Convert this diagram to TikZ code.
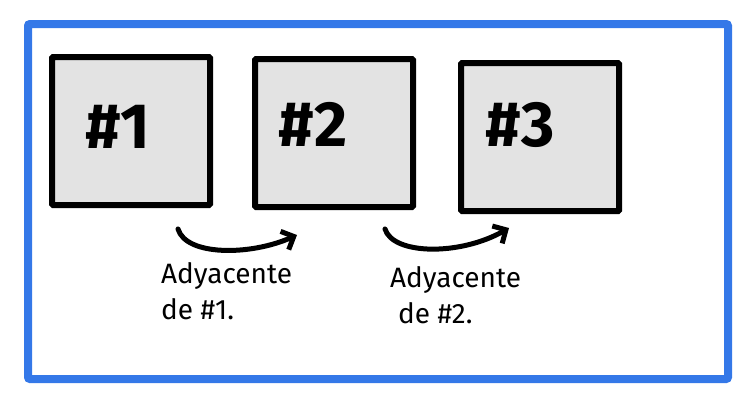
\documentclass[tikz,border=0pt]{standalone}
\usepackage{fontspec}
\setmainfont{Fira Sans}
\usetikzlibrary{arrows.meta}
\definecolor{frameblue}{HTML}{3478E8}
\definecolor{boxgray}{HTML}{E3E3E3}
\tikzstyle{cell} = [draw,line width=6pt,fill=boxgray,rounded corners=1pt,minimum width=158pt,minimum height=148pt,inner sep=0pt]
\tikzstyle{num} = [font=\fontsize{64}{64}\selectfont\bfseries,inner sep=0pt]
\tikzstyle{note} = [font=\fontsize{28}{36}\selectfont,align=left,inner sep=0pt,anchor=north west]
\tikzstyle{hop} = [line width=5pt,line cap=round,-{Straight Barb[length=10pt,width=20pt,line width=5pt]}]

\begin{document}
\begin{tikzpicture}[x=1pt,y=-1pt]
\useasboundingbox (0,0) rectangle (753,407);
\draw[frameblue,line width=8pt,rounded corners=2pt] (28,24) rectangle (728,379);

% the three cells
\draw(131,131) node[cell] (c1) {};
\draw(334,133) node[cell] (c2) {};
\draw(540,137) node[cell] (c3) {};
\draw(118,127) node[num] (n1) {\#1};
\draw(313,124) node[num] (n2) {\#2};
\draw(520,125) node[num] (n3) {\#3};

% arrows between neighbours
\coordinate (h1a) at (178,229);
\coordinate (h1b) at (297,235);
\coordinate (h2a) at (385,229);
\coordinate (h2b) at (509,228);
\draw[hop] (h1a) .. controls (186,256) and (250,256) .. (h1b);
\draw[hop] (h2a) .. controls (393,255) and (460,256) .. (h2b);

\draw(161,262) node[note] (t1) {Adyacente\\de \#1.};
\draw(390,266) node[note] (t2) {Adyacente\\\hspace{8pt}de \#2.};

\end{tikzpicture}
\end{document}
